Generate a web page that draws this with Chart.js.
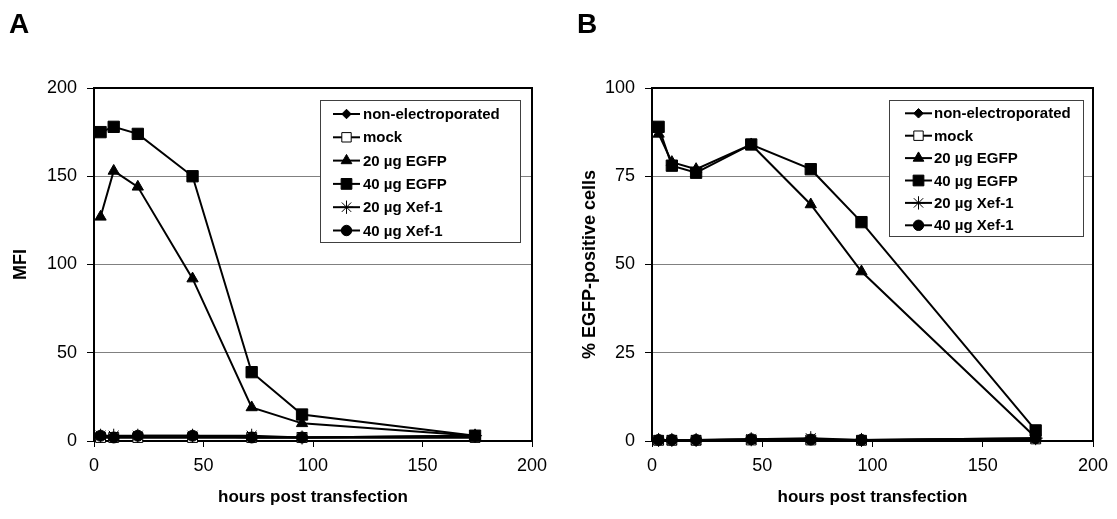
<!DOCTYPE html>
<html>
<head>
<meta charset="utf-8">
<script src="https://cdn.jsdelivr.net/npm/chart.js@4.4.0/dist/chart.umd.min.js"></script>
<style>
  body { margin: 0; background: #fff; }
  #page { position: relative; width: 1117px; height: 519px; overflow: hidden; }
  .panel { position: absolute; top: 0; }
  .tag { position: absolute; top: 10px; font: bold 28px "Liberation Sans", Arial, sans-serif; line-height: 1; }
</style>
</head>
<body>
<div id="page">
  <canvas id="chartA" class="panel" style="left:0" width="558" height="519"></canvas>
  <canvas id="chartB" class="panel" style="left:558px" width="559" height="519"></canvas>
  <div class="tag" style="left:9px">A</div>
  <div class="tag" style="left:577px">B</div>
</div>
<script>
// hours post transfection
const hours = [3, 9, 20, 45, 72, 95, 174];
const seriesNames = ['non-electroporated', 'mock', '20 µg EGFP', '40 µg EGFP', '20 µg Xef-1', '40 µg Xef-1'];
const xTicks = [0, 50, 100, 150, 200];

// panel A: MFI
const mfiNonElectro = [2, 2, 2, 2, 2, 2, 2];
const mfiMock = [2, 2, 2, 2, 2, 2, 2];
const mfiEgfp20 = [127, 153, 144, 92, 19, 10, 3];
const mfiEgfp40 = [175, 178, 174, 150, 39, 15, 3];
const mfiXef20 = [3, 3, 3, 3, 3, 2, 3];
const mfiXef40 = [3, 2, 3, 3, 2, 2, 3];
const mfiTicks = [0, 50, 100, 150, 200];

// panel B: % EGFP-positive cells
const pctNonElectro = [0.2, 0.2, 0.2, 0.4, 0.3, 0.2, 0.6];
const pctMock = [0.2, 0.2, 0.2, 0.3, 0.3, 0.2, 0.6];
const pctEgfp20 = [87, 79, 77, 84, 67, 48, 1];
const pctEgfp40 = [89, 78, 76, 84, 77, 62, 3];
const pctXef20 = [0.3, 0.3, 0.3, 0.5, 0.8, 0.3, 0.8];
const pctXef40 = [0.3, 0.3, 0.3, 0.5, 0.4, 0.3, 0.8];
const pctTicks = [0, 25, 50, 75, 100];

const FONT = '"Liberation Sans", Arial, sans-serif';

// marker look for each series, same order as seriesNames
const markers = [
  { pointStyle: 'rectRot', pointRadius: 5, pointBackgroundColor: '#000', order: 6 },
  { pointStyle: 'rect', pointRadius: 7, pointBackgroundColor: '#fff', order: 5 },
  { pointStyle: 'triangle', pointRadius: 6.5, pointBackgroundColor: '#000', order: 4 },
  { pointStyle: 'rect', pointRadius: 8, pointBackgroundColor: '#000', order: 3 },
  { pointStyle: 'star', pointRadius: 7, pointBackgroundColor: '#000', order: 2 },
  { pointStyle: 'circle', pointRadius: 5.5, pointBackgroundColor: '#000', order: 1 }
];

function makeDatasets(list) {
  return list.map((vals, i) => ({
    label: seriesNames[i],
    data: hours.map((h, j) => ({ x: h, y: vals[j] })),
    borderColor: '#000',
    borderWidth: 2,
    pointBorderColor: '#000',
    pointBorderWidth: 1,
    pointStyle: markers[i].pointStyle,
    pointRadius: markers[i].pointRadius,
    pointHoverRadius: markers[i].pointRadius,
    pointBackgroundColor: markers[i].pointBackgroundColor,
    order: markers[i].order,
    tension: 0,
    clip: false
  }));
}

// top + right frame of the plot
const frame = {
  id: 'frame',
  beforeDatasetsDraw(chart) {
    const a = chart.chartArea, ctx = chart.ctx;
    ctx.save();
    ctx.strokeStyle = '#000';
    ctx.lineWidth = 2;
    ctx.beginPath();
    ctx.moveTo(a.left, a.top);
    ctx.lineTo(a.right, a.top);
    ctx.lineTo(a.right, a.bottom);
    ctx.stroke();
    ctx.restore();
  }
};

// legend with line + marker, drawn inside the plot
const lineLegend = {
  id: 'lineLegend',
  afterDraw(chart, args, o) {
    const ctx = chart.ctx;
    ctx.save();
    ctx.fillStyle = '#fff';
    ctx.fillRect(o.x, o.y, o.w, o.h);
    ctx.strokeStyle = '#404040';
    ctx.lineWidth = 1;
    ctx.strokeRect(o.x + 0.5, o.y + 0.5, o.w, o.h);
    chart.data.datasets.forEach((ds, i) => {
      const cy = o.y + o.first + i * o.row;
      ctx.strokeStyle = '#000';
      ctx.lineWidth = 2;
      ctx.beginPath();
      ctx.moveTo(o.x + o.lx0, cy);
      ctx.lineTo(o.x + o.lx1, cy);
      ctx.stroke();
      ctx.fillStyle = ds.pointBackgroundColor;
      ctx.lineWidth = 1;
      Chart.helpers.drawPoint(ctx, {
        pointStyle: ds.pointStyle,
        radius: ds.pointRadius * 0.95,
        borderWidth: 1
      }, o.x + (o.lx0 + o.lx1) / 2, cy);
      ctx.fillStyle = '#000';
      ctx.font = 'bold 15px ' + FONT;
      ctx.textBaseline = 'middle';
      ctx.fillText(ds.label, o.x + o.tx, cy + 1);
    });
    ctx.restore();
  }
};

function makeChart(id, datasets, yMax, yStep, yTickList, yTitle, yTitlePad, padRight, legendOpts) {
  return new Chart(document.getElementById(id), {
    type: 'line',
    data: { datasets: datasets },
    plugins: [frame, lineLegend],
    options: {
      responsive: false,
      animation: false,
      events: [],
      layout: { padding: { left: 0, top: 88, right: padRight, bottom: 0 } },
      plugins: {
        legend: { display: false },
        tooltip: { enabled: false },
        lineLegend: legendOpts
      },
      scales: {
        x: {
          type: 'linear',
          min: xTicks[0],
          max: xTicks[xTicks.length - 1],
          afterBuildTicks: s => { s.ticks = xTicks.map(v => ({ value: v })); },
          afterFit: s => { s.height = 78; },
          ticks: { color: '#000', font: { family: FONT, size: 18 }, padding: 8, maxRotation: 0 },
          grid: { drawOnChartArea: false, tickLength: 6, tickColor: '#000', tickWidth: 1 },
          border: { color: '#000', width: 2 },
          title: {
            display: true,
            text: 'hours post transfection',
            color: '#000',
            font: { family: FONT, size: 17, weight: 'bold' },
            padding: { top: 0, bottom: 11 }
          }
        },
        y: {
          min: 0,
          max: yMax,
          afterBuildTicks: s => { s.ticks = yTickList.map(v => ({ value: v })); },
          afterFit: s => { s.width = 94; },
          ticks: { color: '#000', font: { family: FONT, size: 18 }, padding: 10 },
          grid: {
            color: c => (c.tick && (c.tick.value === 0 || c.tick.value === yMax)) ? 'rgba(0,0,0,0)' : '#808080',
            lineWidth: 1,
            tickLength: 7,
            tickColor: '#000',
            tickWidth: 1
          },
          border: { color: '#000', width: 2 },
          title: {
            display: true,
            text: yTitle,
            color: '#000',
            font: { family: FONT, size: 18, weight: 'bold' },
            padding: { top: yTitlePad, bottom: 0 }
          }
        }
      }
    }
  });
}

makeChart('chartA',
  makeDatasets([mfiNonElectro, mfiMock, mfiEgfp20, mfiEgfp40, mfiXef20, mfiXef40]),
  200, 50, mfiTicks, 'MFI', 10, 26,
  { x: 320, y: 100, w: 200, h: 142, first: 14, row: 23.3, lx0: 13, lx1: 40, tx: 43 });

makeChart('chartB',
  makeDatasets([pctNonElectro, pctMock, pctEgfp20, pctEgfp40, pctXef20, pctXef40]),
  100, 25, pctTicks, '% EGFP-positive cells', 21, 24,
  { x: 331, y: 100, w: 194, h: 136, first: 13.3, row: 22.4, lx0: 16, lx1: 43, tx: 45 });
</script>
</body>
</html>
